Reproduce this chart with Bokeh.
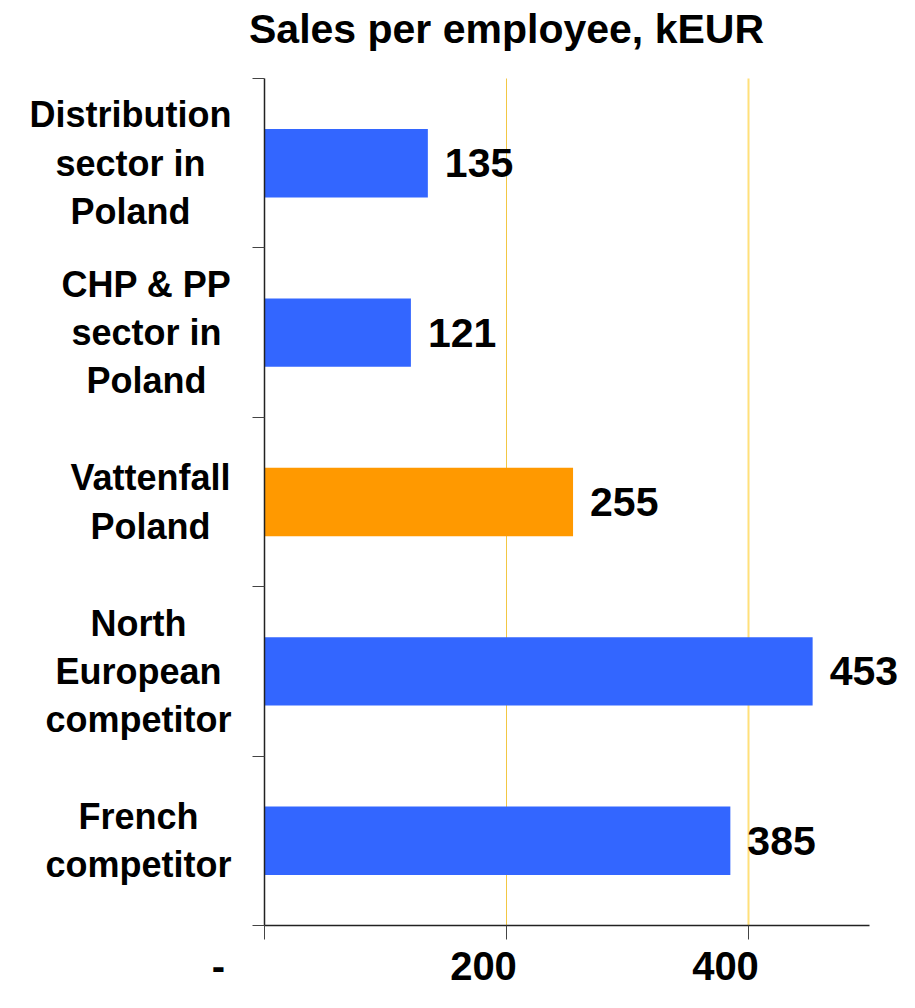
from bokeh.plotting import figure
from bokeh.models import (Range1d, LinearAxis, FixedTicker, Label, LabelSet,
                          ColumnDataSource)
from bokeh.core.properties import value
from bokeh.embed import file_html
from bokeh.resources import INLINE

# ---------------- data ----------------
title_text = "Sales per employee, kEUR"
categories = [
    "Distribution\nsector in\nPoland",
    "CHP & PP\nsector in\nPoland",
    "Vattenfall\nPoland",
    "North\nEuropean\ncompetitor",
    "French\ncompetitor",
]
values = [135, 121, 255, 453, 385]
highlight = [False, False, True, False, False]
x_ticks = [0, 200, 400]
x_tick_labels = ["-", "200", "400"]
x_max = 500

# ---------------- style / layout ----------------
FONT = "Liberation Sans"
BLUE = "#3366FF"
ORANGE = "#FF9900"
CAT_SIZE = 36
VAL_SIZE = 41
TICK_SIZE = 40
TITLE_SIZE = 41
WIDTH, HEIGHT = 899, 992
PLOT_L, PLOT_R, PLOT_T, PLOT_B = 264, 869, 78, 925   # plotting area in px

# Arial/Liberation Sans Bold advance widths (per 1000 em)
W = {' ': 278, '&': 722, 'C': 722, 'D': 722, 'E': 667, 'F': 611, 'H': 722,
     'N': 722, 'P': 667, 'V': 667, 'a': 556, 'b': 611, 'c': 556, 'd': 611,
     'e': 556, 'f': 333, 'h': 611, 'i': 278, 'l': 278, 'm': 889, 'n': 611,
     'o': 611, 'p': 611, 'r': 389, 's': 556, 't': 333, 'u': 611, 'y': 556}


def text_width(s, size):
    return sum(W.get(c, 556) for c in s) / 1000.0 * size


n = len(categories)
# the frame covers the whole canvas; axes are placed at fixed data locations
xs = (PLOT_R - PLOT_L) / x_max          # px per unit
ys = (PLOT_B - PLOT_T) / n              # px per category
x_range = Range1d(-PLOT_L / xs, (WIDTH - PLOT_L) / xs)
y_range = Range1d((HEIGHT - PLOT_T) / ys, -PLOT_T / ys)

p = figure(width=WIDTH, height=HEIGHT, x_range=x_range, y_range=y_range,
           output_backend="svg", toolbar_location=None,
           x_axis_location=None, y_axis_location=None,
           min_border=0, min_border_left=0, min_border_right=0,
           min_border_top=0, min_border_bottom=0)
p.outline_line_color = None
p.xgrid.visible = False
p.ygrid.visible = False

# grid lines (at the non-zero ticks)
p.segment(x0=x_ticks[1:], x1=x_ticks[1:], y0=[0] * 2, y1=[n] * 2,
          line_color=["#F2C744", "#FFE07A"], line_width=[1, 2])

# bars
src = ColumnDataSource(dict(
    y=[i + 0.5 for i in range(n)],
    right=values,
    color=[ORANGE if h else BLUE for h in highlight],
    label=[str(v) for v in values],
))
p.hbar(y="y", left=0, right="right", height=0.404, color="color",
       line_color=None, source=src)

# value labels
p.add_layout(LabelSet(x="right", y="y", text="label", source=src,
                      x_offset=17, text_baseline="middle", text_align="left",
                      text_font=value(FONT), text_font_style="bold",
                      text_font_size=value(f"{VAL_SIZE}px"),
                      text_color="black"))

# axes at fixed positions
xaxis = LinearAxis(fixed_location=n, bounds=(0, x_max),
                   ticker=FixedTicker(ticks=x_ticks),
                   major_label_overrides={t: "" for t in x_ticks},
                   major_tick_out=14, major_tick_in=0, minor_tick_out=0,
                   minor_tick_in=0, axis_line_color="#222222",
                   axis_line_width=1.5, major_tick_line_color="#444444")
p.add_layout(xaxis, "below")
yaxis = LinearAxis(fixed_location=0, bounds=(0, n),
                   ticker=FixedTicker(ticks=list(range(n + 1))),
                   major_label_overrides={t: "" for t in range(n + 1)},
                   major_tick_out=12, major_tick_in=0, minor_tick_out=0,
                   minor_tick_in=0, axis_line_color="#222222",
                   axis_line_width=1.5, major_tick_line_color="#444444")
p.add_layout(yaxis, "left")

# category labels: block right-aligned left of the axis, lines centred
for i, cat in enumerate(categories):
    maxw = max(text_width(line, CAT_SIZE) for line in cat.split("\n"))
    p.add_layout(Label(x=0, y=i + 0.5, text=cat,
                       x_offset=-(33 + maxw / 2.0),
                       text_align="center", text_baseline="middle",
                       text_line_height=1.18,
                       text_font=FONT, text_font_style="bold",
                       text_font_size=f"{CAT_SIZE}px", text_color="black"))

# x tick labels
tick_shift = [-46, -23, -23]
for t, lab, sh in zip(x_ticks, x_tick_labels, tick_shift):
    p.add_layout(Label(x=t, y=n, text=lab, x_offset=sh, y_offset=-40,
                       text_align="center", text_baseline="middle",
                       text_font=FONT, text_font_style="bold",
                       text_font_size=f"{TICK_SIZE}px", text_color="black"))

# title
p.add_layout(Label(x=200, y=0, text=title_text, y_offset=50,
                   text_align="center", text_baseline="middle",
                   text_font=FONT, text_font_style="bold",
                   text_font_size=f"{TITLE_SIZE}px", text_color="black"))

open("out.html", "w").write(file_html(p, INLINE))
